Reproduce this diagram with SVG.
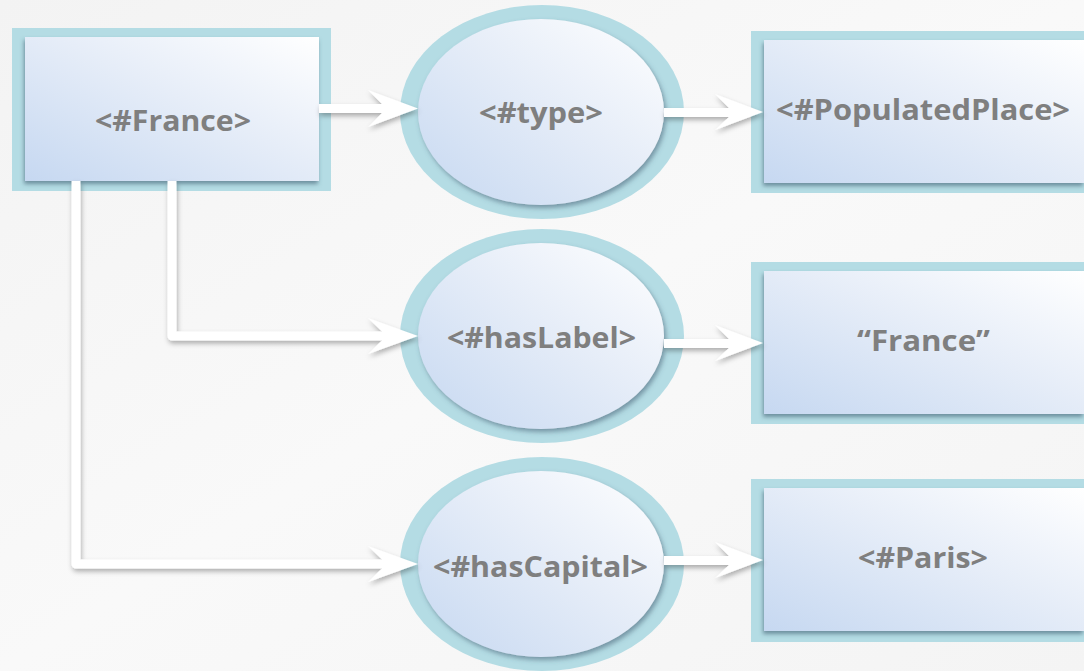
<svg xmlns="http://www.w3.org/2000/svg" width="1084" height="671" viewBox="0 0 1084 671">
  <defs>
    <linearGradient id="bg" x1="0" y1="0" x2="1" y2="1">
      <stop offset="0" stop-color="#f3f3f3"/>
      <stop offset="0.5" stop-color="#f9f9f9"/>
      <stop offset="1" stop-color="#f4f4f4"/>
    </linearGradient>
    <linearGradient id="fill" x1="0" y1="1" x2="1" y2="0">
      <stop offset="0" stop-color="#c6d8f1"/>
      <stop offset="0.55" stop-color="#e6edf8"/>
      <stop offset="1" stop-color="#ffffff"/>
    </linearGradient>
    <filter id="boxShadow" x="-10%" y="-10%" width="120%" height="130%">
      <feDropShadow dx="-1" dy="3" stdDeviation="2" flood-color="#3c5a6e" flood-opacity="0.6"/>
    </filter>
    <filter id="ovalShadow" x="-10%" y="-10%" width="125%" height="130%">
      <feDropShadow dx="2" dy="3" stdDeviation="2.5" flood-color="#3c5a6e" flood-opacity="0.55"/>
    </filter>
    <filter id="arrowShadow" x="-10%" y="-30%" width="125%" height="170%">
      <feDropShadow dx="1" dy="3" stdDeviation="2.5" flood-color="#000" flood-opacity="0.3"/>
    </filter>
    <style>
      .frame { fill: #b4dce4; }
      .inner { fill: url(#fill); }
      .box .inner { filter: url(#boxShadow); }
      .oval .inner { filter: url(#ovalShadow); }
      .label { font-family: "Open Sans", "Liberation Sans", sans-serif; font-weight: 700; font-size: 28px; fill: #7f7f7f; text-anchor: middle; }
      .shaft { fill: none; stroke: #ffffff; stroke-width: 9; stroke-linejoin: round; }
      .head { fill: #ffffff; }
      #connectors > g { filter: url(#arrowShadow); }
    </style>
  </defs>

  <rect width="1084" height="671" fill="url(#bg)"/>

  <!-- subject -->
  <g id="node-france" class="box">
    <rect class="frame" x="12" y="28" width="319" height="163"/>
    <rect class="inner" x="25" y="37" width="294" height="144"/>
    <text class="label" x="173" y="131" textLength="156" lengthAdjust="spacingAndGlyphs">&lt;#France&gt;</text>
  </g>

  <!-- predicates -->
  <g id="node-type" class="oval">
    <ellipse class="frame" cx="542" cy="112" rx="142" ry="107"/>
    <ellipse class="inner" cx="541" cy="112" rx="123" ry="93"/>
    <text class="label" x="541" y="123" textLength="124" lengthAdjust="spacingAndGlyphs">&lt;#type&gt;</text>
  </g>
  <g id="node-haslabel" class="oval">
    <ellipse class="frame" cx="542" cy="336" rx="142" ry="107"/>
    <ellipse class="inner" cx="541" cy="336" rx="123" ry="93"/>
    <text class="label" x="541.5" y="348" textLength="189" lengthAdjust="spacingAndGlyphs">&lt;#hasLabel&gt;</text>
  </g>
  <g id="node-hascapital" class="oval">
    <ellipse class="frame" cx="542" cy="564" rx="142" ry="107"/>
    <ellipse class="inner" cx="541" cy="564" rx="123" ry="93"/>
    <text class="label" x="540.5" y="577" textLength="215" lengthAdjust="spacingAndGlyphs">&lt;#hasCapital&gt;</text>
  </g>

  <!-- objects -->
  <g id="node-populatedplace" class="box">
    <rect class="frame" x="751" y="31" width="345" height="162"/>
    <rect class="inner" x="764" y="40" width="320" height="143"/>
    <text class="label" x="923" y="120" textLength="294" lengthAdjust="spacingAndGlyphs">&lt;#PopulatedPlace&gt;</text>
  </g>
  <g id="node-label-france" class="box">
    <rect class="frame" x="751" y="262" width="345" height="162"/>
    <rect class="inner" x="764" y="271" width="320" height="143"/>
    <text class="label" x="923.5" y="351" textLength="133" lengthAdjust="spacingAndGlyphs">“France”</text>
  </g>
  <g id="node-paris" class="box">
    <rect class="frame" x="751" y="479" width="345" height="163"/>
    <rect class="inner" x="764" y="488" width="320" height="143"/>
    <text class="label" x="923" y="568" textLength="130" lengthAdjust="spacingAndGlyphs">&lt;#Paris&gt;</text>
  </g>

  <!-- edges: white block arrows with a soft shadow -->
  <g id="connectors">
    <g id="edge-france-type">
      <path class="shaft" d="M319,108.5 H384"/>
      <polygon class="head" points="418,108.5 368,90 382,104 382,113 368,127"/>
    </g>
    <g id="edge-france-haslabel">
      <path class="shaft" d="M172,181 V336 H384"/>
      <polygon class="head" points="418,336 368,318 382,331.5 382,340.5 368,354"/>
    </g>
    <g id="edge-france-hascapital">
      <path class="shaft" d="M76,181 V564 H384"/>
      <polygon class="head" points="418,564 368,546 382,559.5 382,568.5 368,582"/>
    </g>
    <g id="edge-type-populatedplace">
      <path class="shaft" d="M664,112.5 H730"/>
      <polygon class="head" points="763,112 715,94 729,108 729,117 715,130"/>
    </g>
    <g id="edge-haslabel-france">
      <path class="shaft" d="M664,343.5 H730"/>
      <polygon class="head" points="763,343 715,325 729,339 729,348 715,361"/>
    </g>
    <g id="edge-hascapital-paris">
      <path class="shaft" d="M664,560.5 H730"/>
      <polygon class="head" points="763,560 715,542 729,556 729,565 715,578"/>
    </g>
  </g>
</svg>
